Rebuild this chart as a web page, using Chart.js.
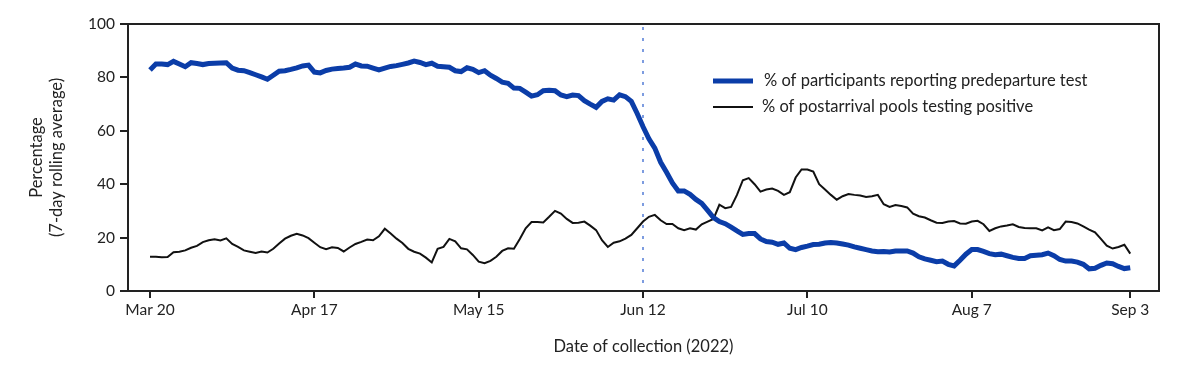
<!DOCTYPE html>
<html>
<head>
<meta charset="utf-8">
<script src="https://cdn.jsdelivr.net/npm/chart.js@4.4.1/dist/chart.umd.min.js"></script>
<style>
  html, body { margin: 0; padding: 0; background: #fff; }
  #wrap { width: 1185px; height: 365px; }
</style>
</head>
<body>
<div id="wrap"><canvas id="chart" width="1185" height="365"></canvas></div>
<script>
// daily 7-day rolling averages, Mar 20 - Sep 3 2022 (day 0 = Mar 20)
const predepartureTest = [
  82.8, 85.0, 85.0, 84.8, 86.0, 85.0, 84.0, 85.5, 85.2, 84.8,
  85.2, 85.3, 85.4, 85.5, 83.5, 82.7, 82.5, 81.8, 81.0, 80.2,
  79.3, 80.8, 82.3, 82.5, 83.0, 83.6, 84.3, 84.6, 82.0, 81.7,
  82.6, 83.1, 83.3, 83.5, 83.8, 85.0, 84.3, 84.2, 83.5, 82.8,
  83.5, 84.1, 84.4, 84.9, 85.4, 86.1, 85.6, 84.8, 85.3, 84.2,
  84.0, 83.8, 82.5, 82.2, 83.6, 83.0, 81.8, 82.5, 80.8, 79.6,
  78.2, 77.8, 76.0, 75.9, 74.5, 73.0, 73.5, 75.0, 75.2, 75.0,
  73.4, 72.8, 73.4, 73.2, 71.3, 70.0, 68.8, 71.0, 72.0, 71.5,
  73.5, 72.8, 71.0, 66.5, 61.5, 57.0, 53.5, 48.2, 44.5, 40.5,
  37.5, 37.5, 36.2, 34.3, 32.8, 30.2, 27.5, 26.0, 25.2, 23.9,
  22.5, 21.2, 21.5, 21.5, 19.5, 18.5, 18.3, 17.5, 18.0, 16.0,
  15.5, 16.3, 16.8, 17.4, 17.5, 18.0, 18.2, 18.0, 17.6, 17.2,
  16.5, 16.0, 15.5, 15.0, 14.7, 14.8, 14.6, 15.0, 15.0, 15.0,
  14.2, 12.8, 12.0, 11.5, 11.0, 11.2, 10.0, 9.4, 11.5, 13.8,
  15.5, 15.5, 14.8, 14.0, 13.6, 13.8, 13.2, 12.6, 12.2, 12.2,
  13.2, 13.4, 13.6, 14.2, 13.2, 11.8, 11.2, 11.2, 10.8, 10.0,
  8.3, 8.5, 9.6, 10.5, 10.2, 9.2, 8.4, 8.7
];

const poolsPositive = [
  12.8, 12.8, 12.6, 12.7, 14.5, 14.7, 15.2, 16.2, 16.9, 18.3,
  19.0, 19.4, 18.9, 19.7, 17.6, 16.5, 15.2, 14.7, 14.2, 14.8,
  14.4, 15.8, 17.8, 19.6, 20.7, 21.4, 20.8, 19.8, 18.1, 16.4,
  15.7, 16.4, 16.1, 14.8, 16.3, 17.6, 18.4, 19.3, 19.0, 20.5,
  23.3, 21.5, 19.6, 18.0, 15.8, 14.7, 14.0, 12.5, 10.7, 15.8,
  16.5, 19.5, 18.6, 16.0, 15.6, 13.5, 11.0, 10.4, 11.3, 12.8,
  15.0, 16.0, 15.8, 19.5, 23.5, 25.8, 25.8, 25.7, 27.8, 30.0,
  29.0, 27.0, 25.5, 25.6, 26.0, 24.5, 22.8, 19.0, 16.5, 18.1,
  18.6, 19.6, 21.0, 23.5, 26.0, 27.8, 28.5, 26.5, 25.1, 25.1,
  23.5, 22.8, 23.5, 23.0, 25.0, 26.0, 27.0, 32.3, 31.0, 31.5,
  36.0, 41.5, 42.3, 40.0, 37.2, 38.0, 38.4, 37.5, 36.0, 37.0,
  42.5, 45.5, 45.5, 44.7, 40.0, 38.0, 36.0, 34.2, 35.5, 36.3,
  36.0, 35.8, 35.2, 35.5, 36.0, 32.5, 31.5, 32.2, 31.8, 31.3,
  29.0, 28.0, 27.5, 26.5, 25.6, 25.5, 26.0, 26.2, 25.3, 25.2,
  26.0, 26.3, 25.0, 22.5, 23.5, 24.2, 24.5, 25.0, 24.0, 23.6,
  23.5, 23.5, 22.7, 23.8, 22.8, 23.2, 26.0, 25.8, 25.3, 24.2,
  23.0, 22.0, 19.5, 17.0, 15.9, 16.5, 17.3, 14.0
];

const tickDays = [0, 28, 56, 84, 112, 140, 167];
const tickLabels = ["Mar 20", "Apr 17", "May 15", "Jun 12", "Jul 10", "Aug 7", "Sep 3"];
const markerDay = 84; // Jun 12
const seriesNames = [
  "% of participants reporting predeparture test",
  "% of postarrival pools testing positive"
];

const FONT = "Lato, 'Open Sans', sans-serif";
const INK = "#222";
const BLUE = "#0b3da8";

const toPoints = arr => arr.map((v, i) => ({ x: i, y: v }));

// box round the plot area + dotted marker line
const framePlugin = {
  id: "frame",
  beforeDatasetsDraw(chart) {
    const { ctx, chartArea: a, scales } = chart;
    const x = Math.round(scales.x.getPixelForValue(markerDay));
    ctx.save();
    ctx.strokeStyle = "#7d9ce0";
    ctx.lineWidth = 2;
    ctx.setLineDash([3, 8]);
    ctx.beginPath();
    ctx.moveTo(x, a.top + 3);
    ctx.lineTo(x, a.bottom);
    ctx.stroke();
    ctx.restore();
  },
  afterDatasetsDraw(chart) {
    const { ctx, chartArea: a } = chart;
    ctx.save();
    ctx.strokeStyle = INK;
    ctx.lineWidth = 2;
    ctx.strokeRect(a.left, a.top, a.right - a.left, a.bottom - a.top);
    ctx.restore();
  }
};

// legend inside the plot, upper right
const legendPlugin = {
  id: "insideLegend",
  afterDraw(chart) {
    const ctx = chart.ctx;
    const rows = [81, 107];
    ctx.save();
    ctx.font = "16.5px " + FONT;
    ctx.fillStyle = INK;
    ctx.textBaseline = "middle";
    chart.data.datasets.forEach((ds, i) => {
      const y = rows[i];
      ctx.strokeStyle = ds.borderColor;
      ctx.lineWidth = ds.borderWidth;
      ctx.beginPath();
      ctx.moveTo(713, y);
      ctx.lineTo(753, y);
      ctx.stroke();
      ctx.fillText(ds.label, i === 0 ? 764 : 762, y);
    });
    ctx.restore();
  }
};

new Chart(document.getElementById("chart"), {
  type: "line",
  data: {
    datasets: [
      {
        label: seriesNames[0],
        data: toPoints(predepartureTest),
        borderColor: BLUE,
        borderWidth: 5,
        pointRadius: 0,
        tension: 0
      },
      {
        label: seriesNames[1],
        data: toPoints(poolsPositive),
        borderColor: "#111",
        borderWidth: 2,
        pointRadius: 0,
        tension: 0
      }
    ]
  },
  options: {
    responsive: false,
    animation: false,
    layout: { padding: { top: 24, right: 26, left: 0, bottom: 0 } },
    plugins: {
      legend: { display: false },
      tooltip: { enabled: false }
    },
    scales: {
      x: {
        type: "linear",
        min: -3.75,
        max: 171.9,
        afterFit(scale) { scale.height = 74; },
        afterBuildTicks(scale) {
          scale.ticks = tickDays.map(v => ({ value: v }));
        },
        grid: { drawOnChartArea: false, tickLength: 7, color: INK, lineWidth: 2 },
        border: { display: true, color: INK, width: 2 },
        ticks: {
          autoSkip: false,
          maxRotation: 0,
          padding: 3,
          color: INK,
          font: { family: FONT, size: 15.5 },
          callback: v => tickLabels[tickDays.indexOf(v)] ?? ""
        },
        title: {
          display: true,
          text: "Date of collection (2022)",
          color: INK,
          font: { family: FONT, size: 16.5 },
          padding: { top: 0, bottom: 8 }
        }
      },
      y: {
        min: 0,
        max: 100,
        afterFit(scale) { scale.width = 128; },
        grid: { drawOnChartArea: false, tickLength: 8, color: INK, lineWidth: 2 },
        border: { display: true, color: INK, width: 2 },
        ticks: {
          stepSize: 20,
          padding: 5,
          color: INK,
          font: { family: FONT, size: 15.5 }
        },
        title: {
          display: true,
          text: ["Percentage", "(7-day rolling average)"],
          color: INK,
          font: { family: FONT, size: 16.5, lineHeight: 1.25 },
          padding: { top: 26, bottom: 0 }
        }
      }
    }
  },
  plugins: [framePlugin, legendPlugin]
});
</script>
</body>
</html>
